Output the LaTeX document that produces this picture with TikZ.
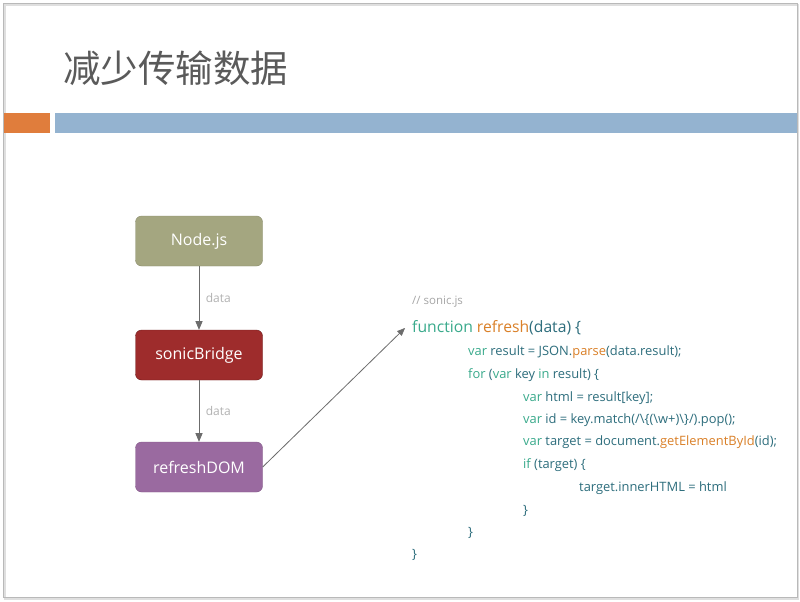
\documentclass[tikz,border=0pt]{standalone}
\usepackage{fontspec}
\setmainfont{Open Sans}
\newfontfamily\cjk{Noto Sans CJK SC}
\usetikzlibrary{arrows}

\definecolor{barorange}{RGB}{224,125,60}
\definecolor{barblue}{RGB}{148,179,208}
\definecolor{olivebox}{RGB}{164,166,128}
\definecolor{redbox}{RGB}{158,44,44}
\definecolor{purplebox}{RGB}{154,106,160}
\definecolor{kwteal}{RGB}{58,170,140}
\definecolor{txteal}{RGB}{46,110,125}
\definecolor{fnorange}{RGB}{218,128,40}
\definecolor{titlegray}{RGB}{90,90,90}

\begin{document}
\begin{tikzpicture}[x=1pt,y=-1pt]
\tikzstyle box=[rounded corners=6pt, minimum width=127pt, minimum height=50pt,
  text=white, font=\fontsize{16}{19}\selectfont]
\tikzstyle flow=[>=triangle 45, line width=1pt, ->, gray!85!black]
\tikzstyle lbl=[text=gray!60, font=\fontsize{12}{14}\selectfont]
\tikzstyle code=[anchor=west, inner sep=0pt, text=txteal, font=\fontsize{12.9}{15}\selectfont]
\newcommand{\kw}[1]{\textcolor{kwteal}{#1}}
\newcommand{\fn}[1]{\textcolor{fnorange}{#1}}

\useasboundingbox (0,0) rectangle (800,602);
\fill[white] (0,0) rectangle (800,602);
\draw[gray!25, line width=2pt] (5,5) rectangle (798,599);
\draw[gray!55, line width=0.8pt] (3,3) rectangle (797,597);

% title and bars
\node[anchor=west, inner sep=0pt, text=titlegray] (title) at (63,68)
  {\cjk\fontsize{37.5}{40}\selectfont 减少传输数据};
\fill[barorange] (4,113) rectangle (50,133);
\fill[barblue] (55,113) rectangle (797,133);

% flow
\node[box, fill=olivebox, draw=olivebox!85!black] (nodejs) at (199,241) {Node.js};
\node[box, fill=redbox, draw=redbox!70!black] (bridge) at (199,355) {sonicBridge};
\node[box, fill=purplebox, draw=purplebox!85!black] (dom) at (199,467) {refreshDOM};

\draw[flow] (nodejs) -- node[lbl, right=3pt] {data} (bridge);
\draw[flow] (bridge) -- node[lbl, right=3pt] {data} (dom);

% code
\node[code, text=gray!70, font=\fontsize{11.5}{13}\selectfont] (c0) at (412,302) {// sonic.js};
\node[code, font=\fontsize{15.7}{18}\selectfont] (c1) at (412,328)
  {\kw{function} \fn{refresh}(data) \{};
\node[code] (c2) at (468,352) {\kw{var} result = JSON.\fn{parse}(data.result);};
\node[code] (c3) at (468,375) {\kw{for} (\kw{var} key \kw{in} result) \{};
\node[code] (c4) at (523,398) {\kw{var} html = result[key];};
\node[code] (c5) at (523,420)
  {\kw{var} id = key.match(/\textbackslash\{(\textbackslash w+)\textbackslash\}/).pop();};
\node[code] (c6) at (523,442) {\kw{var} target = document.\fn{getElementById}(id);};
\node[code] (c7) at (523,465) {\kw{if} (target) \{};
\node[code] (c8) at (579,488) {target.innerHTML = html};
\node[code] (c9) at (523,511) {\}};
\node[code] (c10) at (468,533) {\}};
\node[code] (c11) at (412,555) {\}};

\draw[flow, line width=0.8pt] (dom.east) -- ([xshift=-7pt]c1.west);
\end{tikzpicture}
\end{document}
